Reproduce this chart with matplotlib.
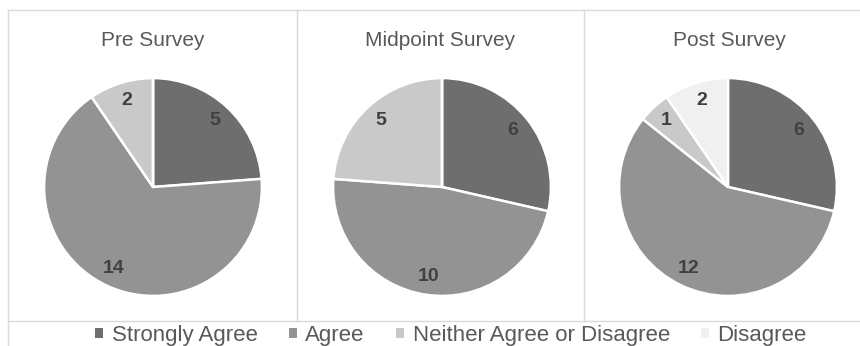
import matplotlib
matplotlib.use('Agg')

import matplotlib.pyplot as plt
from matplotlib.patches import Patch
from matplotlib.lines import Line2D

plt.rcParams['font.family'] = ['Liberation Sans', 'DejaVu Sans']

# Dane
categories = ['Strongly Agree', 'Agree', 'Neither Agree or Disagree', 'Disagree']
surveys    = ['Pre Survey', 'Midpoint Survey', 'Post Survey']
pre_vals   = [5, 14, 2, 0]
mid_vals   = [6, 10, 5, 0]
post_vals  = [6, 12, 1, 2]
colors     = ['#6e6e6e', '#939393', '#c9c9c9', '#f0f0f0']

W, H = 860, 346
fig = plt.figure(figsize=(W / 100, H / 100), dpi=100)
fig.patch.set_facecolor('white')

centers_x = [153, 442, 728]
cy, r = 187, 110
title_x = [153, 440, 729]

for cx, tx, name, vals in zip(centers_x, title_x, surveys, [pre_vals, mid_vals, post_vals]):
    ax = fig.add_axes([(cx - r) / W, (H - cy - r) / H, 2 * r / W, 2 * r / H])
    wedges, texts = ax.pie(vals, colors=colors, startangle=90, counterclock=False,
                           labels=[str(v) if v > 0 else '' for v in vals],
                           labeldistance=0.83,
                           wedgeprops=dict(edgecolor='white', linewidth=1.8),
                           textprops=dict(fontsize=14, fontweight='bold', color='#404040',
                                          ha='center', va='center'))
    ax.set_xlim(-1.01, 1.01)
    ax.set_ylim(-1.01, 1.01)
    ax.set_aspect('equal')
    fig.text(tx / W, (H - 40) / H, name, ha='center', va='center',
             fontsize=15, color='#595959')

# Ramki paneli
lc = '#d9d9d9'
def hline(x0, x1, y):
    fig.add_artist(Line2D([x0 / W, x1 / W], [(H - y) / H, (H - y) / H], color=lc, lw=1))
def vline(x, y0, y1):
    fig.add_artist(Line2D([x / W, x / W], [(H - y0) / H, (H - y1) / H], color=lc, lw=1))

hline(8, W, 10)
hline(8, W, 321)
vline(8, 10, H)
vline(297, 10, 321)
vline(584, 10, 321)

handles = [Patch(facecolor=c, edgecolor='none') for c in colors]
fig.legend(handles, categories, loc='center', bbox_to_anchor=(451 / W, (H - 335.5) / H),
           ncol=4, frameon=False, fontsize=16, labelcolor='#595959',
           handlelength=0.35, handleheight=0.35, handletextpad=0.4, columnspacing=1.4,
           borderpad=0, borderaxespad=0)

plt.savefig('out.png', dpi=100)
plt.close()
